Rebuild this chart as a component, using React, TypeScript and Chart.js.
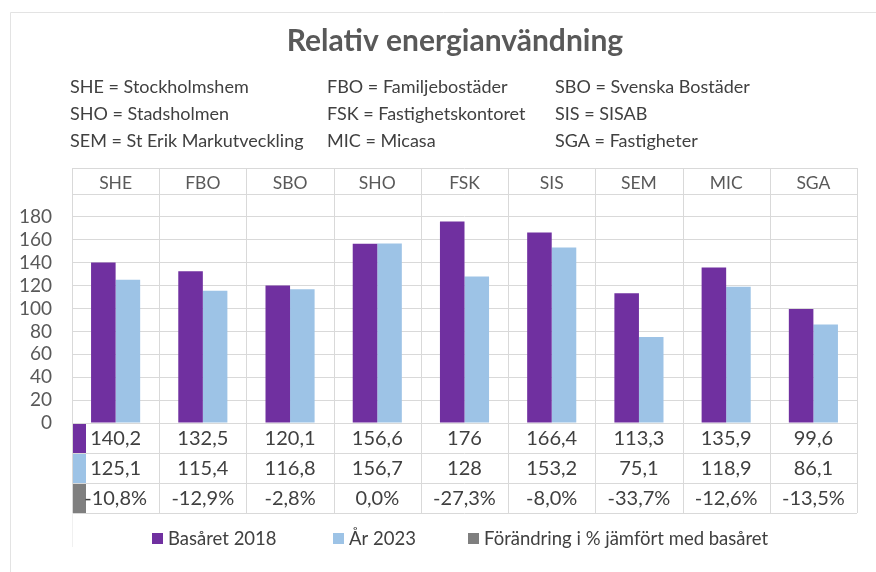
import React, { useEffect, useRef } from "react";
import { Chart, registerables } from "chart.js";

Chart.register(...registerables);

const chartTitle = "Relativ energianvändning";
const categories = ["SHE", "FBO", "SBO", "SHO", "FSK", "SIS", "SEM", "MIC", "SGA"];
const base2018 = [140.2, 132.5, 120.1, 156.6, 176, 166.4, 113.3, 135.9, 99.6];
const year2023 = [125.1, 115.4, 116.8, 156.7, 128, 153.2, 75.1, 118.9, 86.1];
const changePct = [-10.8, -12.9, -2.8, 0.0, -27.3, -8.0, -33.7, -12.6, -13.5];
const seriesNames = ["Basåret 2018", "År 2023", "Förändring i % jämfört med basåret"];
const seriesColors = ["#7030A0", "#9DC3E6", "#7F7F7F"];
const yGridValues = [0, 20, 40, 60, 80, 100, 120, 140, 160, 180, 200];
const yTickLabels = [0, 20, 40, 60, 80, 100, 120, 140, 160, 180];
const abbrevCol1 = ["SHE = Stockholmshem", "SHO = Stadsholmen", "SEM = St Erik Markutveckling"];
const abbrevCol2 = ["FBO = Familjebostäder", "FSK = Fastighetskontoret", "MIC = Micasa"];
const abbrevCol3 = ["SBO = Svenska Bostäder", "SIS = SISAB", "SGA = Fastigheter"];

const FONT = "Lato, 'Open Sans', sans-serif";
const TEXT = "#404040";
const GRID = "#D9D9D9";

const fmtNum = (v: number) => String(v).replace(".", ",");
const fmtPct = (v: number) => v.toFixed(1).replace(".", ",") + "%";

export default function App() {
  const ref = useRef<HTMLCanvasElement>(null);

  useEffect(() => {
    const canvas = ref.current;
    if (!canvas) return;

    const tablePlugin = {
      id: "excelTable",
      beforeDatasetsDraw(chart: any) {
        const ctx = chart.ctx;
        const a = chart.chartArea;
        const n = categories.length;
        const colW = (a.right - a.left) / n;
        const tableTop = 168;
        const rowH = 30;
        const tableBottom = a.bottom + rowH * 3;
        ctx.save();
        ctx.strokeStyle = GRID;
        ctx.lineWidth = 1;
        ctx.beginPath();
        for (let i = 0; i <= n; i++) {
          const x = Math.round(a.left + i * colW) + 0.5;
          ctx.moveTo(x, tableTop);
          ctx.lineTo(x, tableBottom);
        }
        const hs = [tableTop, a.top, a.bottom, a.bottom + rowH, a.bottom + 2 * rowH, tableBottom];
        hs.forEach((y) => {
          const yy = Math.round(y) + 0.5;
          ctx.moveTo(a.left, yy);
          ctx.lineTo(a.right, yy);
        });
        ctx.stroke();
        ctx.restore();
      },
      afterDraw(chart: any) {
        const ctx = chart.ctx;
        const a = chart.chartArea;
        const xs = chart.scales.x;
        const rowH = 30;
        ctx.save();

        // outer frame
        ctx.strokeStyle = "#E3E3E3";
        ctx.lineWidth = 1;
        ctx.beginPath();
        ctx.moveTo(10.5, 572);
        ctx.lineTo(10.5, 12.5);
        ctx.lineTo(876, 12.5);
        ctx.stroke();
        ctx.strokeStyle = "#F0F0F0";
        ctx.beginPath();
        ctx.moveTo(a.left + 0.5, a.bottom + 3 * rowH);
        ctx.lineTo(a.left + 0.5, 547);
        ctx.stroke();

        // title
        ctx.fillStyle = "#595959";
        ctx.font = `bold 30px ${FONT}`;
        ctx.textAlign = "center";
        ctx.textBaseline = "alphabetic";
        ctx.fillText(chartTitle, 455, 51);

        // abbreviations
        ctx.fillStyle = TEXT;
        ctx.font = `18px ${FONT}`;
        ctx.textAlign = "left";
        const lineYs = [93, 120, 147];
        abbrevCol1.forEach((t, i) => ctx.fillText(t, 70, lineYs[i]));
        abbrevCol2.forEach((t, i) => ctx.fillText(t, 327, lineYs[i]));
        abbrevCol3.forEach((t, i) => ctx.fillText(t, 555, lineYs[i]));

        // header labels
        ctx.textAlign = "center";
        ctx.fillStyle = "#595959";
        ctx.font = `17.5px ${FONT}`;
        categories.forEach((c, i) => {
          ctx.fillText(c, xs.getPixelForValue(i), 189);
        });

        // row markers
        for (let r = 0; r < 3; r++) {
          ctx.fillStyle = seriesColors[r];
          const y0 = Math.round(a.bottom + r * rowH) + 1;
          ctx.fillRect(a.left + 1, y0, 13, rowH - 1);
        }

        // row values
        ctx.fillStyle = TEXT;
        ctx.font = `20px ${FONT}`;
        const rowBase = [445, 475, 505];
        categories.forEach((_, i) => {
          const cx = xs.getPixelForValue(i);
          ctx.fillText(fmtNum(base2018[i]), cx, rowBase[0]);
          ctx.fillText(fmtNum(year2023[i]), cx, rowBase[1]);
          ctx.fillText(fmtPct(changePct[i]), cx, rowBase[2]);
        });

        // legend
        ctx.textAlign = "left";
        ctx.font = `18.5px ${FONT}`;
        const legendX = [152, 333, 468];
        seriesNames.forEach((name, i) => {
          ctx.fillStyle = seriesColors[i];
          ctx.fillRect(legendX[i], 533, 11, 11);
          ctx.fillStyle = TEXT;
          ctx.fillText(name, legendX[i] + 16, 545);
        });

        ctx.restore();
      },
    };

    const chart = new Chart(canvas, {
      type: "bar",
      data: {
        labels: categories,
        datasets: [
          {
            label: seriesNames[0],
            data: base2018,
            backgroundColor: seriesColors[0],
            categoryPercentage: 0.563,
            barPercentage: 1,
          },
          {
            label: seriesNames[1],
            data: year2023,
            backgroundColor: seriesColors[1],
            categoryPercentage: 0.563,
            barPercentage: 1,
          },
        ],
      },
      options: {
        responsive: false,
        animation: false,
        layout: { padding: { left: 0, right: 19, top: 194, bottom: 149 } },
        plugins: {
          legend: { display: false },
          title: { display: false },
          tooltip: { enabled: false },
        },
        scales: {
          x: { display: false, offset: true },
          y: {
            min: 0,
            max: 200,
            afterFit(s: any) {
              s.width = 72;
            },
            afterBuildTicks(s: any) {
              s.ticks = yGridValues.map((v) => ({ value: v }));
            },
            ticks: {
              autoSkip: false,
              padding: 20,
              color: "#595959",
              font: { family: FONT, size: 19 },
              callback: (v: any) => (yTickLabels.includes(Number(v)) ? String(v) : ""),
            },
            grid: { color: GRID, drawTicks: false },
            border: { display: false },
          },
        },
      },
      plugins: [tablePlugin],
    } as any);

    return () => chart.destroy();
  }, []);

  return (
    <div style={{ position: "fixed", left: 0, top: 0, width: 876, height: 572, background: "#fff" }}>
      <canvas ref={ref} width={876} height={572} style={{ display: "block", width: 876, height: 572 }} />
    </div>
  );
}
